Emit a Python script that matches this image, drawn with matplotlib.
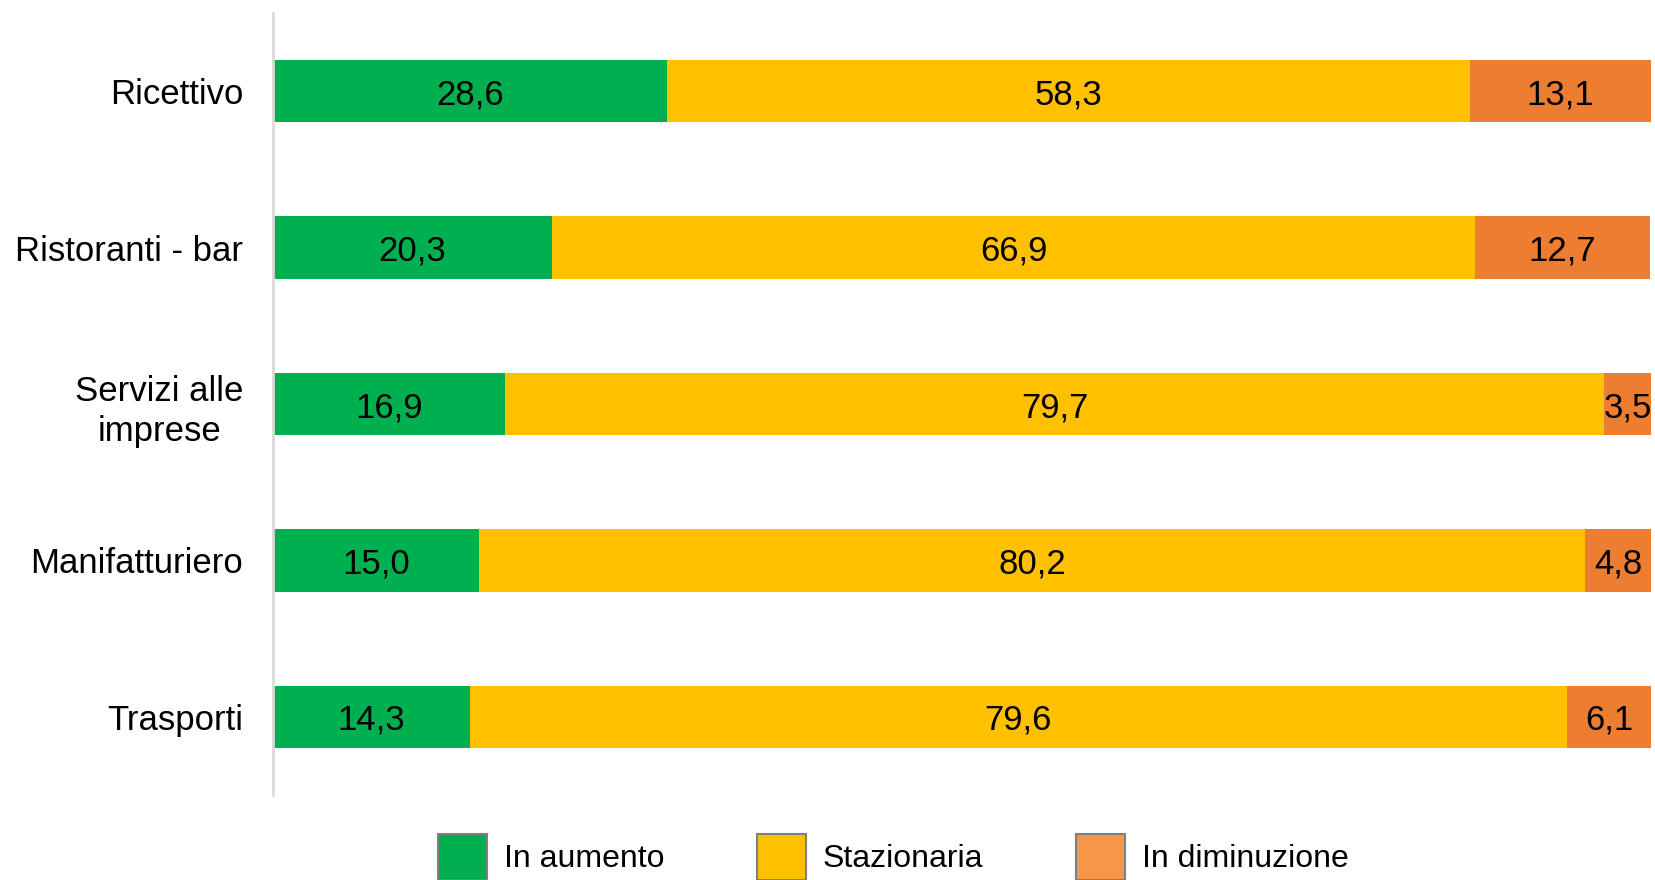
import matplotlib
matplotlib.use("Agg")
import numpy as np
import matplotlib.pyplot as plt
from matplotlib.patches import Patch

plt.rcParams['font.family'] = ['Liberation Sans', 'DejaVu Sans']

# dati
settori = ["Ricettivo", "Ristoranti - bar", "Servizi alle\nimprese", "Manifatturiero", "Trasporti"]
in_aumento = [28.6, 20.3, 16.9, 15.0, 14.3]
stazionaria = [58.3, 66.9, 79.7, 80.2, 79.6]
in_diminuzione = [13.1, 12.7, 3.5, 4.8, 6.1]
serie_nomi = ["In aumento", "Stazionaria", "In diminuzione"]

# stili
col_bar = ["#00b050", "#ffc000", "#ed7d31"]
col_leg = ["#00b050", "#ffc000", "#f79646"]

fig = plt.figure(figsize=(16.55, 8.8), dpi=100)
ax = fig.add_axes((272.5/1655, 1-795/880, 1378.5/1655, 782/880))

y = np.arange(len(settori))
left = np.zeros(len(settori))
for vals, c in zip([in_aumento, stazionaria, in_diminuzione], col_bar):
    vals = np.array(vals)
    bars = ax.barh(y, vals, left=left, height=0.4, color=c, edgecolor="none")
    for b, v in zip(bars, vals):
        ax.text(b.get_x()+b.get_width()/2, b.get_y()+b.get_height()/2,
                f"{v:.1f}".replace(".", ","), ha="center", va="center_baseline",
                fontsize=25, color="black")
    left += vals

ax.set_xlim(0, 100)
ax.set_ylim(len(settori)-0.5, -0.5)
ax.set_yticks(y)
ax.set_yticklabels(settori, fontsize=25, multialignment="center", linespacing=1.3)
ax.tick_params(axis="y", length=0, pad=21)
ax.set_xticks([])
for s in ["top", "right", "bottom"]:
    ax.spines[s].set_visible(False)
ax.spines["left"].set_color("#d9d9d9")
ax.spines["left"].set_linewidth(2)

handles = [Patch(facecolor=c, edgecolor="#7f7f7f", linewidth=1.5) for c in col_leg]
fig.legend(handles, serie_nomi, loc="upper left", bbox_to_anchor=(438/1655, 1-834/880),
           ncol=3, frameon=False, fontsize=23, borderpad=0, borderaxespad=0,
           handlelength=1.53, handleheight=1.85, handletextpad=0.53, columnspacing=2.9)

fig.savefig("out.png", dpi=100)
